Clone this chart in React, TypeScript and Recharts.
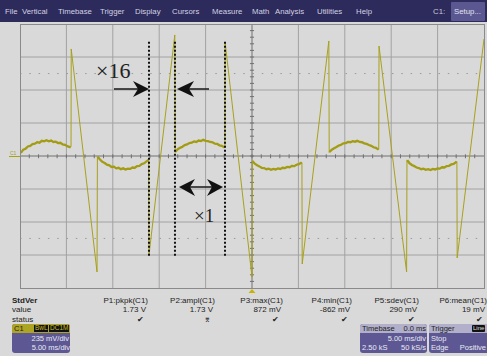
import { LineChart, Line, XAxis, YAxis, ReferenceLine } from 'recharts'

// trace readings: [time ms, volts mV], 5 ms/div, 235 mV/div
const edge0 = [[0, 869], [0.06, 15]]
const hump1 = [[0.1, 22], [0.35, 45], [0.6, 52], [0.85, 68], [1.1, 72], [1.35, 85], [1.6, 88], [1.85, 98], [2.1, 95], [2.35, 108], [2.6, 104], [2.85, 112], [3.1, 105], [3.35, 110], [3.6, 100], [3.85, 102], [4.1, 92], [4.35, 94], [4.6, 82], [4.85, 80], [5.1, 70], [5.45, 62]]
const ramp1 = [[5.5, 70], [5.52, 762], [8.3, -826], [8.34, -5]]
const hump2 = [[8.37, -5], [8.62, -25], [8.87, -42], [9.12, -50], [9.37, -62], [9.62, -66], [9.87, -78], [10.12, -76], [10.37, -88], [10.62, -84], [10.87, -94], [11.12, -88], [11.37, -96], [11.62, -90], [11.87, -92], [12.12, -82], [12.37, -84], [12.62, -72], [12.87, -70], [13.12, -58], [13.37, -52], [13.84, -28]]
const ramp2 = [[13.87, -30], [13.9, -705], [16.68, 862], [16.72, 25]]
const hump3 = [[16.75, 30], [17.0, 48], [17.25, 58], [17.5, 66], [17.75, 78], [18.0, 82], [18.25, 92], [18.5, 95], [18.75, 104], [19.0, 100], [19.25, 110], [19.5, 106], [19.75, 115], [20.0, 108], [20.25, 106], [20.5, 100], [20.75, 98], [21.0, 88], [21.25, 86], [21.5, 76], [21.75, 72], [22.05, 60]]
const ramp3 = [[22.08, 62], [22.1, 812], [25.0, -862], [25.03, -35]]
const hump4 = [[25.05, -35], [25.3, -55], [25.55, -66], [25.8, -74], [26.05, -84], [26.3, -86], [26.55, -94], [26.8, -90], [27.05, -98], [27.3, -92], [27.55, -96], [27.8, -88], [28.05, -92], [28.3, -84], [28.55, -86], [28.8, -78], [29.05, -80], [29.3, -70], [29.55, -72], [29.8, -62], [30.05, -58], [30.35, -46]]
const ramp4 = [[30.38, -46], [30.41, -769], [33.28, 819], [33.32, 25]]
const hump5 = [[33.35, 28], [33.6, 45], [33.85, 55], [34.1, 64], [34.35, 74], [34.6, 80], [34.85, 90], [35.1, 92], [35.35, 100], [35.6, 98], [35.85, 106], [36.1, 102], [36.35, 108], [36.6, 100], [36.85, 98], [37.1, 90], [37.35, 86], [37.6, 78], [37.85, 72], [38.1, 62], [38.35, 58], [38.63, 45]]
const ramp5 = [[38.66, 48], [38.69, 783], [41.66, -826], [41.7, -28]]
const hump6 = [[41.73, -30], [41.98, -52], [42.23, -64], [42.48, -72], [42.73, -82], [42.98, -86], [43.23, -94], [43.48, -90], [43.73, -98], [43.98, -94], [44.23, -100], [44.48, -92], [44.73, -96], [44.98, -88], [45.23, -90], [45.48, -80], [45.73, -82], [45.98, -72], [46.23, -70], [46.48, -60], [46.73, -56], [47.05, -40]]
const ramp6 = [[47.08, -40], [47.11, -726], [50, 833]]

const majorT = [5, 10, 15, 20, 30, 35, 40, 45]
const majorV = [-705, -470, -235, 235, 470, 705]
const cursorT = [13.9, 16.7, 22.09]

const menuItems: [string, number][] = [
  ['File', 5], ['Vertical', 22], ['Timebase', 58], ['Trigger', 100], ['Display', 135], ['Cursors', 172],
  ['Measure', 212], ['Math', 252], ['Analysis', 275], ['Utilities', 317], ['Help', 356],
]
const params = ['P1:pkpk(C1)', 'P2:ampl(C1)', 'P3:max(C1)', 'P4:min(C1)', 'P5:sdev(C1)', 'P6:mean(C1)']
const values = ['1.73 V', '1.73 V', '872 mV', '-862 mV', '290 mV', '19 mV']
const statuses = ['✔', '⌆', '✔', '✔', '✔', '✔']
const colRight = [148, 215, 283, 352, 419, 487]

const toPts = (rows: number[][]) => rows.map(([t, v]) => ({ t, v }))
const humps = [hump1, hump2, hump3, hump4, hump5, hump6]
const trace = toPts([...edge0, ...hump1, ...ramp1, ...hump2, ...ramp2, ...hump3, ...ramp3, ...hump4, ...ramp4, ...hump5, ...ramp5, ...hump6, ...ramp6])

const minorT = Array.from({ length: 49 }, (_, i) => i + 1)
const minorV = Array.from({ length: 39 }, (_, i) => (i - 19) * 47)

const TRACE = '#a8a11c'
const GRID = '#a2a2a2'
const sans = '"Liberation Sans", Arial, sans-serif'

const txt = (s: string, left: number, top: number, extra: React.CSSProperties = {}) => (
  <div style={{ position: 'absolute', left, top, fontSize: 8, lineHeight: '9px', whiteSpace: 'nowrap', ...extra }}>{s}</div>
)
// right-aligned within a parent of the given width
const rtxt = (s: string, right: number, top: number, extra: React.CSSProperties = {}, w = 487) => (
  <div style={{ position: 'absolute', right: w - right, top, fontSize: 8, lineHeight: '9px', whiteSpace: 'nowrap', textAlign: 'right', ...extra }}>{s}</div>
)

const light = '#e8e8f2'

export default function App() {
  return (
    <div style={{ position: 'absolute', left: 0, top: 0, width: 487, height: 356, background: '#d9d9d9', fontFamily: sans, overflow: 'hidden', color: '#222' }}>
      {/* menu bar */}
      <div style={{ position: 'absolute', left: 0, top: 0, width: 487, height: 22, background: '#2d2a5c' }}>
        {menuItems.map(([m, x]) => txt(m, x, 7, { color: '#d2d2e2', fontSize: 7.8 }))}
        {txt('C1:', 433, 7, { color: '#c8c8d8', fontSize: 7.8 })}
        <div style={{ position: 'absolute', left: 451, top: 2, width: 34, height: 19, background: '#5b5891', borderRadius: 1 }} />
        {txt('Setup...', 454, 7, { color: '#e2e2f0', fontSize: 7.8 })}
      </div>

      {/* scope screen */}
      <div style={{ position: 'absolute', left: 20, top: 24 }}>
        <LineChart width={464} height={264} data={trace} margin={{ top: 0, right: 0, bottom: 0, left: 0 }}>
          <XAxis type="number" dataKey="t" domain={[0, 50]} hide allowDataOverflow />
          <YAxis type="number" domain={[-940, 940]} hide allowDataOverflow />
          {majorT.map(t => <ReferenceLine key={'gt' + t} x={t} stroke={GRID} />)}
          {majorV.map(v => <ReferenceLine key={'gv' + v} y={v} stroke={GRID} />)}
          <ReferenceLine y={587} stroke="#9a9a9a" strokeDasharray="1.5 7.8" />
          <ReferenceLine y={-587} stroke="#9a9a9a" strokeDasharray="1.5 7.8" />
          <ReferenceLine y={0} stroke="#707070" />
          <ReferenceLine x={25} stroke="#707070" />
          {minorT.map(t => <ReferenceLine key={'mt' + t} segment={[{ x: t, y: -16 }, { x: t, y: 12 }]} stroke="#707070" />)}
          {minorV.map(v => <ReferenceLine key={'mv' + v} segment={[{ x: 24.78, y: v }, { x: 25.22, y: v }]} stroke="#707070" />)}
          <Line dataKey="v" data={trace} type="linear" stroke={TRACE} strokeWidth={1} dot={false} isAnimationActive={false} />
          {humps.map((h, i) => (
            <Line key={'h' + i} dataKey="v" data={toPts(h)} type="linear" stroke="#a39c14" strokeWidth={2.3} dot={false} isAnimationActive={false} />
          ))}
          {cursorT.map(t => (
            <ReferenceLine key={'c' + t} segment={[{ x: t, y: -710 }, { x: t, y: 818 }]} stroke="#111" strokeWidth={2} strokeDasharray="2 2" />
          ))}
        </LineChart>
      </div>
      <div style={{ position: 'absolute', left: 20, top: 24, width: 463, height: 263, border: '1px solid #8a8a8a', pointerEvents: 'none' }} />

      {/* annotations */}
      <svg width={487} height={356} style={{ position: 'absolute', left: 0, top: 0, pointerEvents: 'none' }}>
        <text x={10} y={155} fontSize={5} fill={TRACE} fontFamily={sans}>C1</text>
        <line x1={9} y1={156.5} x2={20} y2={156.5} stroke={TRACE} />
        <polygon points="252,289 248.5,293 255.5,293" fill="#c8b400" />
        <line x1={114} y1={89} x2={140} y2={89} stroke="#222" strokeWidth={1.6} />
        <polygon points="149,89 133,81 138,89 133,97" fill="#111" />
        <line x1={187} y1={89} x2={209} y2={89} stroke="#222" strokeWidth={1.6} />
        <polygon points="177,89 194,81 189,89 194,97" fill="#111" />
        <line x1={189} y1={187} x2={213} y2={187} stroke="#222" strokeWidth={1.6} />
        <polygon points="179,187 195,179 190,187 195,196" fill="#111" />
        <polygon points="223,187 207,179 212,187 207,196" fill="#111" />
        <text x={96} y={78} fontSize={22} fill="#222" fontFamily='"Liberation Serif", serif'>×16</text>
        <text x={194} y={222} fontSize={19} fill="#222" fontFamily='"Liberation Serif", serif'>×1</text>
      </svg>

      {/* measurement table */}
      {txt('StdVer', 12, 296, { fontWeight: 'bold' })}
      {txt('value', 12, 305)}
      {txt('status', 12, 315)}
      {params.map((p, i) => rtxt(p, colRight[i], 296))}
      {values.map((v, i) => rtxt(v, colRight[i] - 2, 305))}
      {statuses.map((s, i) => rtxt(s, colRight[i] - 4, 315, { fontSize: 8 }))}

      {/* channel box */}
      <div style={{ position: 'absolute', left: 12, top: 324, width: 58, height: 29, background: '#5d5894', borderRadius: 3, overflow: 'hidden' }}>
        <div style={{ position: 'absolute', left: 0, top: 0, width: 58, height: 9, background: '#aea424' }} />
        {txt('C1', 2, 0, { color: '#222', fontSize: 7.5 })}
        <div style={{ position: 'absolute', left: 22, top: 1, width: 14, height: 7, background: '#111' }} />
        <div style={{ position: 'absolute', left: 37, top: 1, width: 20, height: 7, background: '#111' }} />
        {txt('BwL', 23, 0, { color: '#c8bc30', fontSize: 6.5, lineHeight: '8px' })}
        {txt('DC1M', 38, 0, { color: '#c8bc30', fontSize: 6.5, lineHeight: '8px' })}
        {rtxt('235 mV/div', 57, 10, { color: light, fontSize: 7.5 }, 58)}
        {rtxt('5.00 ms/div', 58, 19, { color: light, fontSize: 7.5 }, 58)}
      </div>

      {/* timebase box */}
      <div style={{ position: 'absolute', left: 360, top: 324, width: 67, height: 29, background: '#5d5894', borderRadius: 3, overflow: 'hidden' }}>
        <div style={{ position: 'absolute', left: 0, top: 0, width: 67, height: 9, background: '#b1afc9' }} />
        {txt('Timebase', 2, 0, { color: '#222', fontSize: 7.5 })}
        {rtxt('0.0 ms', 66, 0, { color: '#222', fontSize: 7.5 }, 67)}
        {rtxt('5.00 ms/div', 66, 10, { color: light, fontSize: 7.5 }, 67)}
        {txt('2.50 kS', 2, 19, { color: light, fontSize: 7.5 })}
        {rtxt('50 kS/s', 66, 19, { color: light, fontSize: 7.5 }, 67)}
      </div>

      {/* trigger box */}
      <div style={{ position: 'absolute', left: 429, top: 324, width: 60, height: 29, background: '#5d5894', borderRadius: 3, overflow: 'hidden' }}>
        <div style={{ position: 'absolute', left: 0, top: 0, width: 60, height: 9, background: '#b1afc9' }} />
        {txt('Trigger', 2, 0, { color: '#222', fontSize: 7.5 })}
        <div style={{ position: 'absolute', left: 43, top: 1, width: 13, height: 7, background: '#111', borderRadius: 1 }} />
        {txt('Line', 44, 0, { color: '#e0e0e0', fontSize: 6, lineHeight: '8px' })}
        {txt('Stop', 2, 10, { color: light, fontSize: 7.5 })}
        {txt('Edge', 2, 19, { color: light, fontSize: 7.5 })}
        {rtxt('Positive', 57, 19, { color: light, fontSize: 7.5 }, 60)}
      </div>
    </div>
  )
}
